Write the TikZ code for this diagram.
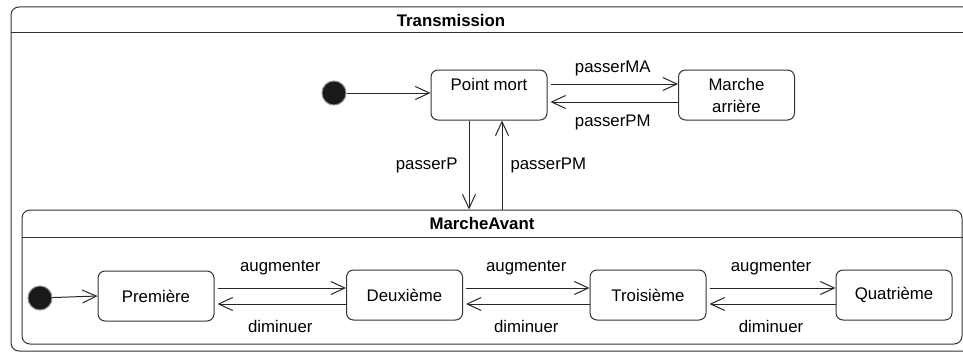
\documentclass[tikz,border=0pt]{standalone}
\usepackage{fontspec}
\setmainfont{Liberation Sans}
\usetikzlibrary{arrows.meta}

\begin{document}
\begin{tikzpicture}[x=1pt,y=-1pt,font=\fontsize{16.8}{22}\selectfont,
		etat/.style={draw=black!80, line width=1pt, rounded corners=7pt, minimum width=116pt, minimum height=50pt, inner sep=0pt, align=center},
		debut/.style={circle, fill=black!90, draw=black!45, line width=1pt, minimum size=24pt, inner sep=0pt},
		trans/.style={draw=black!85, line width=1pt, -{Straight Barb[length=14pt,width=13pt]}},
		lbl/.style={inner sep=0pt}]
		\useasboundingbox (0,0) rectangle (963,353);
		\begin{scope}                           % on coupe le bord droit
			\clip (0,0) rectangle (963,353);
			% etat composite Transmission
			\draw[black!80, line width=1pt, rounded corners=8pt] (11,7) rectangle (990,351);
			\draw[black!80, line width=1pt] (11,33) -- (990,33);
			\node[lbl] (tTrans) at (451,20) {\bfseries Transmission};
			\node[debut] (init1) at (334,93) {};
			\node[etat] (pm) at (489,95) {Point mort\\\phantom{arri\`ere}};
			\node[etat] (arr) at (736.5,95) {Marche\\arri\`ere};
			% etat composite MarcheAvant
			\node[draw=black!80, line width=1pt, rounded corners=8pt, minimum width=940pt, minimum height=134pt] (avant) at (492,277) {};
			\draw[black!80, line width=1pt] ([yshift=-28pt]avant.north west) -- ([yshift=-28pt]avant.north east);
			\node[lbl] (tAvant) at (482,223) {\bfseries MarcheAvant};
			\node[debut] (init2) at (40,298) {};
			\node[etat] (prem) at (156,296) {Premi\`ere};
			\node[etat] (deux) at (404.5,295) {Deuxi\`eme};
			\node[etat] (trois) at (648,295) {Troisi\`eme};
			\node[etat] (quat) at (894,295) {Quatri\`eme};
			% transitions du haut
			\draw[trans] (init1) -- (init1 -| pm.west);
			\draw[trans, shorten <=3pt] ([yshift=11pt]pm.east) -- ([yshift=11pt]arr.west) node[lbl, midway, yshift=16pt] (lMA) {passerMA};
			\draw[trans, shorten >=3pt] ([yshift=-7pt]arr.west) -- ([yshift=-7pt]pm.east) node[lbl, midway, yshift=-20pt] (lPM1) {passerPM};
			\draw[trans] ([xshift=-20pt]pm.south) -- ([xshift=-20pt]pm.south |- avant.north) node[lbl, midway, left=11pt] (lP) {passerP};
			\draw[trans] ([xshift=13pt]pm.south |- avant.north) -- ([xshift=13pt]pm.south) node[lbl, midway, right=8pt] (lPM2) {passerPM};
			% transitions de MarcheAvant
			\draw[trans] (init2) -- (prem.west);
			\draw[trans, shorten <=3pt] ([yshift=8pt]prem.east) -- ([yshift=7pt]deux.west) node[lbl, midway, yshift=20pt] (lA1) {augmenter};
			\draw[trans, shorten >=3pt] ([yshift=-9pt]deux.west) -- ([yshift=-8pt]prem.east) node[lbl, midway, yshift=-22pt] (lD1) {diminuer};
			\draw[trans, shorten <=3pt] ([yshift=7pt]deux.east) -- ([yshift=7pt]trois.west) node[lbl, midway, yshift=20pt] (lA2) {augmenter};
			\draw[trans, shorten >=3pt] ([yshift=-9pt]trois.west) -- ([yshift=-9pt]deux.east) node[lbl, midway, yshift=-22pt] (lD2) {diminuer};
			\draw[trans, shorten <=3pt] ([yshift=7pt]trois.east) -- ([yshift=7pt]quat.west) node[lbl, midway, yshift=20pt] (lA3) {augmenter};
			\draw[trans, shorten >=3pt] ([yshift=-9pt]quat.west) -- ([yshift=-9pt]trois.east) node[lbl, midway, yshift=-22pt] (lD3) {diminuer};
		\end{scope}
	\end{tikzpicture}
\end{document}
